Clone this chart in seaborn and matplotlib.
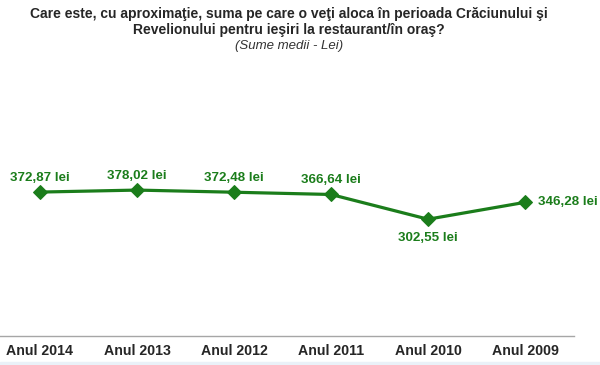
import matplotlib
matplotlib.use("Agg")
import matplotlib.pyplot as plt
import seaborn as sns
import pandas as pd

# data
years = ["Anul 2014", "Anul 2013", "Anul 2012", "Anul 2011", "Anul 2010", "Anul 2009"]
amounts = [372.87, 378.02, 372.48, 366.64, 302.55, 346.28]
labels = ["372,87 lei", "378,02 lei", "372,48 lei", "366,64 lei", "302,55 lei", "346,28 lei"]
label_pos = ["above", "above", "above", "above", "below", "right"]

df = pd.DataFrame({"an": years, "suma": amounts})

sns.set_style("white")
plt.rcParams['font.family'] = ['Liberation Sans', 'DejaVu Sans']

green = "#1b7d1b"
fig = plt.figure(figsize=(6, 3.65), dpi=100)

# faint strip at the very bottom
fig.patches.append(plt.Rectangle((0, 0), 1, 3 / 365, transform=fig.transFigure,
                                 color="#eaf1f8", zorder=0))

ax = fig.add_axes([-8.5 / 600, 29 / 365, 582 / 600, 193 / 365])

sns.lineplot(data=df, x="an", y="suma", ax=ax, color=green, linewidth=2.3,
             marker="D", markersize=7, markeredgecolor=green, sort=False)

for i, (v, lab, pos) in enumerate(zip(amounts, labels, label_pos)):
    if pos == "above":
        ax.annotate(lab, (i, v), xytext=(0, 6), textcoords="offset points",
                    ha="center", va="bottom", color=green, fontsize=9.6, fontweight="bold")
    elif pos == "below":
        ax.annotate(lab, (i, v), xytext=(0, -9), textcoords="offset points",
                    ha="center", va="top", color=green, fontsize=9.6, fontweight="bold")
    else:
        ax.annotate(lab, (i, v), xytext=(9, 0), textcoords="offset points",
                    ha="left", va="center", color=green, fontsize=9.6, fontweight="bold")

ax.set_xlim(-0.5, 5.5)
ax.set_ylim(0, 500)
ax.set_xlabel("")
ax.set_ylabel("")
ax.set_yticks([])
for s in ["top", "right", "left"]:
    ax.spines[s].set_visible(False)
ax.spines["bottom"].set_color("#a6a6a6")
ax.spines["bottom"].set_linewidth(1)
ax.set_xticks(range(len(years)))
ax.set_xticklabels(years, fontsize=10.2, fontweight="bold")
ax.set_xticks([i + 0.5 for i in range(-1, 6)], minor=True)
ax.tick_params(axis="x", which="major", length=0, pad=6)
ax.tick_params(axis="x", which="minor", length=3, color="#a6a6a6", direction="in")
ax.patch.set_alpha(0)

fig.text(0.482, 0.962, "Care este, cu aproximaţie, suma pe care o veţi aloca în perioada Crăciunului şi",
         ha="center", va="center", fontsize=10, fontweight="bold")
fig.text(0.482, 0.917, "Revelionului pentru ieşiri la restaurant/în oraş?",
         ha="center", va="center", fontsize=10, fontweight="bold")
fig.text(0.482, 0.874, "(Sume medii - Lei)", ha="center", va="center",
         fontsize=9.5, fontstyle="italic", color="#333333")

fig.savefig("out.png", dpi=100)
